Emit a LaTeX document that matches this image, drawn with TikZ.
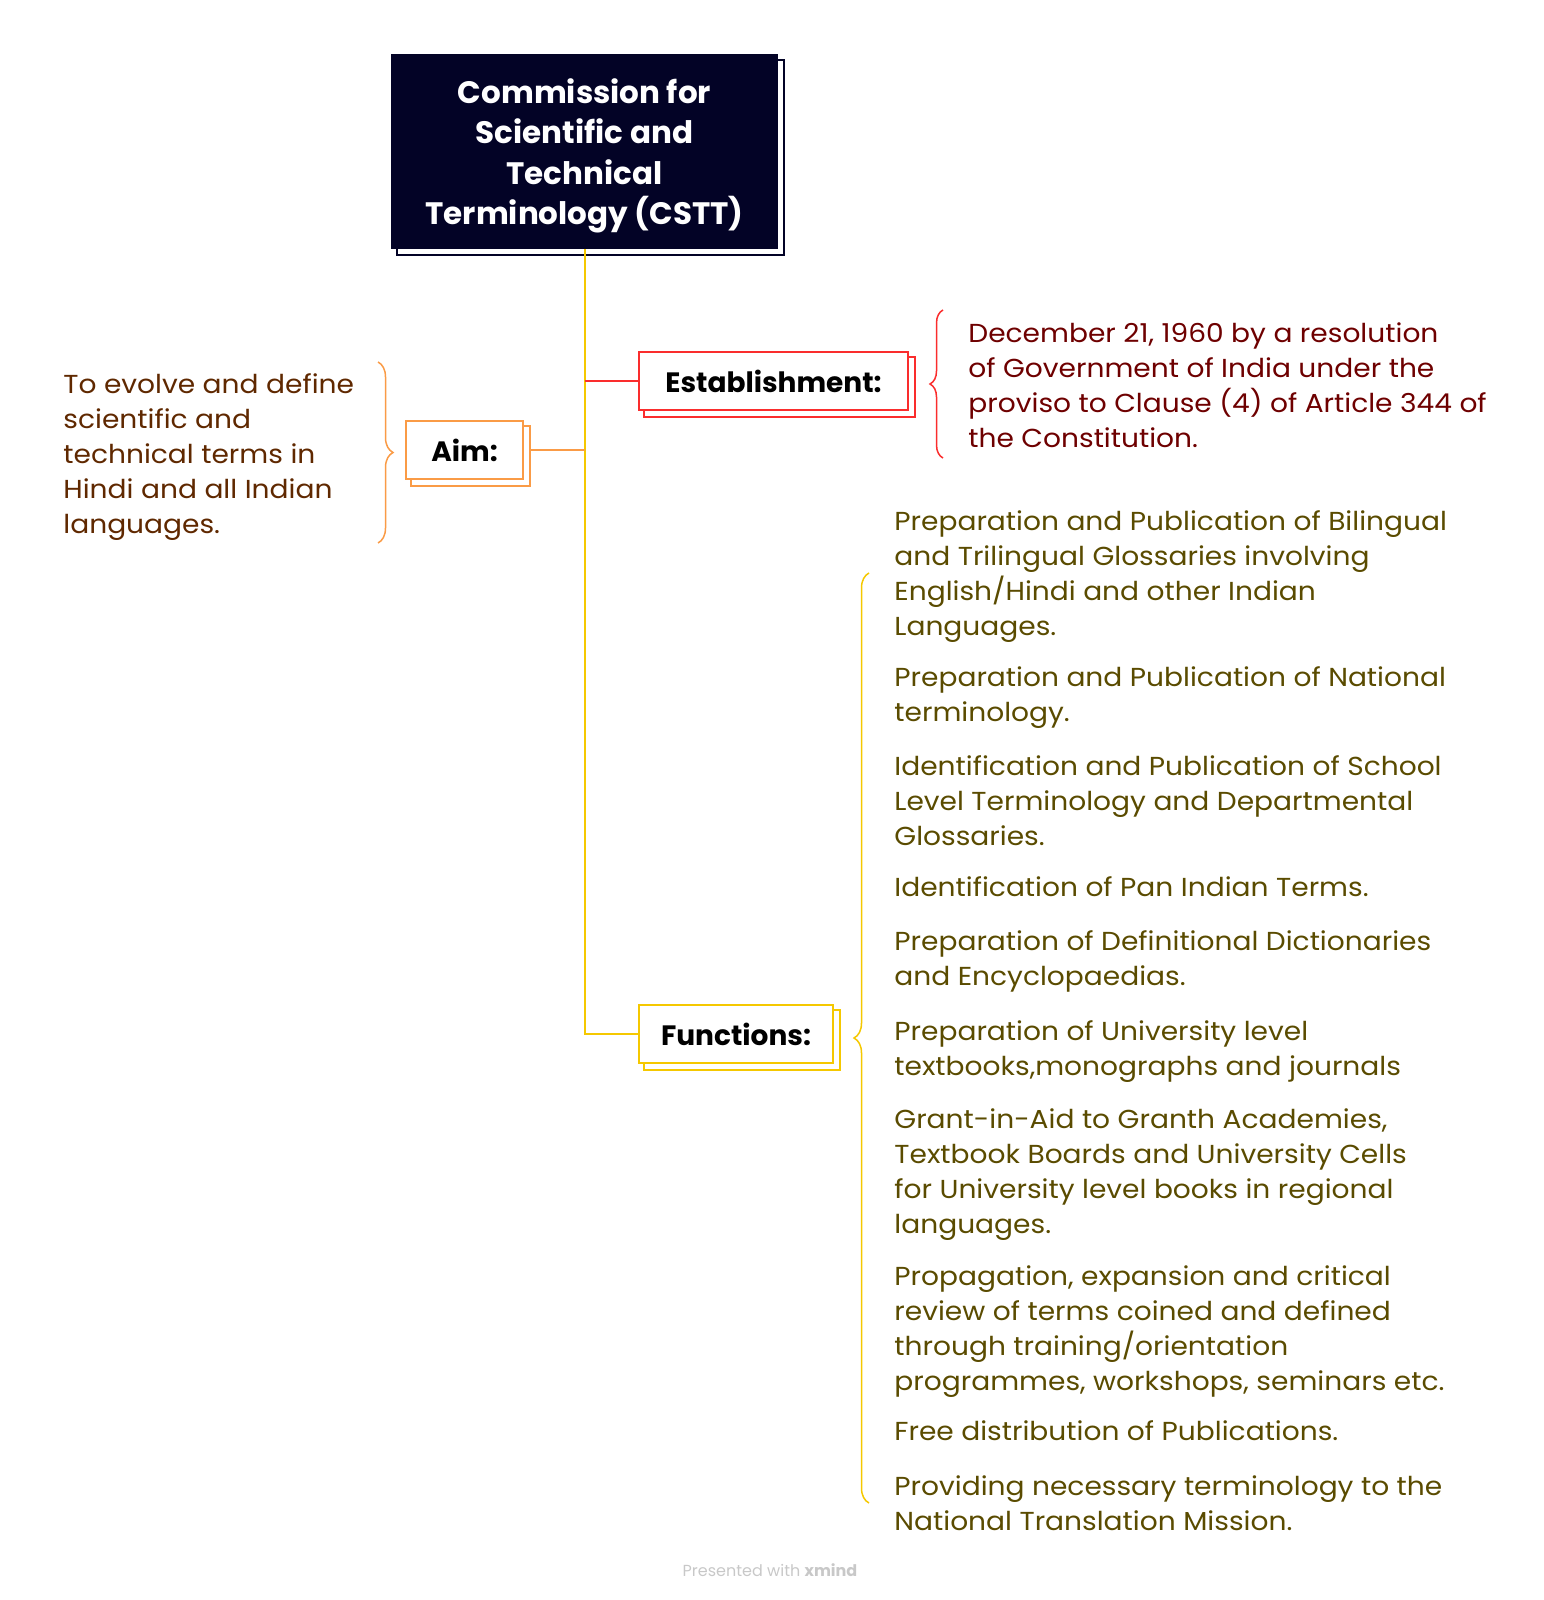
\documentclass[tikz,border=0pt]{standalone}
\usepackage{fontspec}
\setmainfont{Poppins}
\newfontfamily\leaffont{Poppins}[FakeStretch=1.08]
\usepackage{xcolor}
\usepackage{tikz}
\usetikzlibrary{positioning, decorations.pathreplacing, backgrounds}
\definecolor{topicnavy}{RGB}{3, 3, 38}
\definecolor{topicred}{RGB}{250, 45, 45}
\definecolor{topicorange}{RGB}{250, 155, 70}
\definecolor{topicyellow}{RGB}{245, 200, 0}
\definecolor{textmaroon}{RGB}{110, 0, 0}
\definecolor{textbrown}{RGB}{95, 40, 0}
\definecolor{textolive}{RGB}{90, 75, 0}
\definecolor{footergray}{RGB}{200, 200, 200}
\tikzset{
    rootnode/.style={
        rectangle,
        draw=topicnavy,
        fill=topicnavy,
        text=white,
        line width=1pt,
        minimum width=192.5pt,
        minimum height=96.5pt,
        align=center,
        font=\fontsize{15.5}{20.25}\selectfont\bfseries
    },
    topic/.style={
        rectangle,
        draw=#1,
        fill=white,
        line width=1pt,
        minimum height=29pt,
        align=center,
        font=\fontsize{14}{17}\selectfont\bfseries
    },
    shadowbox/.style={
        draw=#1,
        fill=white,
        line width=1pt
    },
    branch/.style={
        draw=#1,
        line width=1pt
    },
    leaf/.style={
        anchor=base west,
        inner sep=0pt,
        align=left,
        text=#1,
        font=\leaffont\fontsize{13}{17.45}\selectfont
    },
    curly/.style 2 args={
        draw=#1,
        line width=0.75pt,
        decorate,
        decoration={brace, amplitude=#2}
    }
}

\begin{document}
\begin{tikzpicture}[x=0.5pt, y=-0.5pt]
        \useasboundingbox (0,0) rectangle (1543,1600);

        \node[rootnode] (root) at (584.5,151.5) {\rule{0pt}{17pt}Commission for\\Scientific and\\Technical\\Terminology (CSTT)};

        \node[topic=topicred, minimum width=134.5pt] (estab) at (773.5,381) {Establishment:};
        \node[topic=topicorange, minimum width=58.5pt] (aim) at (464.5,450) {Aim:};
        \node[topic=topicyellow, minimum width=97pt] (func) at (736,1034) {Functions:};

        \begin{scope}[on background layer]
            \draw[shadowbox=topicnavy] ([shift={(3pt,-3pt)}]root.south west) rectangle ([shift={(3pt,-3pt)}]root.north east);
            \draw[shadowbox=topicred] ([shift={(3pt,-3pt)}]estab.south west) rectangle ([shift={(3pt,-3pt)}]estab.north east);
            \draw[shadowbox=topicorange] ([shift={(3pt,-3pt)}]aim.south west) rectangle ([shift={(3pt,-3pt)}]aim.north east);
            \draw[shadowbox=topicyellow] ([shift={(3pt,-3pt)}]func.south west) rectangle ([shift={(3pt,-3pt)}]func.north east);
        \end{scope}

        \draw[branch=topicyellow] (root.south) |- (func.west);
        \draw[branch=topicred] (root.south |- estab.west) -- (estab.west);
        \draw[branch=topicorange] ([xshift=3pt]aim.east) -- (aim.east -| root.south);

        \coordinate (estabtop) at (943,310);
        \coordinate (estabbot) at (943,458);
        \coordinate (aimtop) at (378,362);
        \coordinate (aimbot) at (378,543);
        \coordinate (functop) at (869,573);
        \coordinate (funcbot) at (869,1503);

        \draw[curly={topicred}{6.5pt}] (estabbot) -- (estabtop);
        \draw[curly={topicorange}{7.5pt}] (aimtop) -- (aimbot);
        \draw[curly={topicyellow}{7.5pt}] (funcbot) -- (functop);

        \node[leaf=textmaroon] (estabtext) at (968,447) {December 21, 1960 by a resolution\\of Government of India under the\\proviso to Clause (4) of Article 344 of\\the Constitution.};
        \node[leaf=textbrown] (aimtext) at (63,533) {To evolve and define\\scientific and\\technical terms in\\Hindi and all Indian\\languages.};

        \node[leaf=textolive] (fn1) at (894,635) {Preparation and Publication of Bilingual\\and Trilingual Glossaries involving\\English/Hindi and other Indian\\Languages.};
        \node[leaf=textolive] (fn2) at (894,721) {Preparation and Publication of National\\terminology.};
        \node[leaf=textolive] (fn3) at (894,845) {Identification and Publication of School\\Level Terminology and Departmental\\Glossaries.};
        \node[leaf=textolive] (fn4) at (894,896) {Identification of Pan Indian Terms.};
        \node[leaf=textolive] (fn5) at (894,985) {Preparation of Definitional Dictionaries\\and Encyclopaedias.};
        \node[leaf=textolive] (fn6) at (894,1075) {Preparation of University level\\textbooks,monographs and journals};
        \node[leaf=textolive] (fn7) at (894,1233) {Grant-in-Aid to Granth Academies,\\Textbook Boards and University Cells\\for University level books in regional\\languages.};
        \node[leaf=textolive] (fn8) at (894,1390) {Propagation, expansion and critical\\review of terms coined and defined\\through training/orientation\\programmes, workshops, seminars etc.};
        \node[leaf=textolive] (fn9) at (894,1440) {Free distribution of Publications.};
        \node[leaf=textolive] (fn10) at (894,1530) {Providing necessary terminology to the\\National Translation Mission.};

        \node[text=footergray, font=\fontsize{8}{10}\selectfont] (footer) at (770,1570) {Presented with \textbf{xmind}};
    \end{tikzpicture}
\end{document}
